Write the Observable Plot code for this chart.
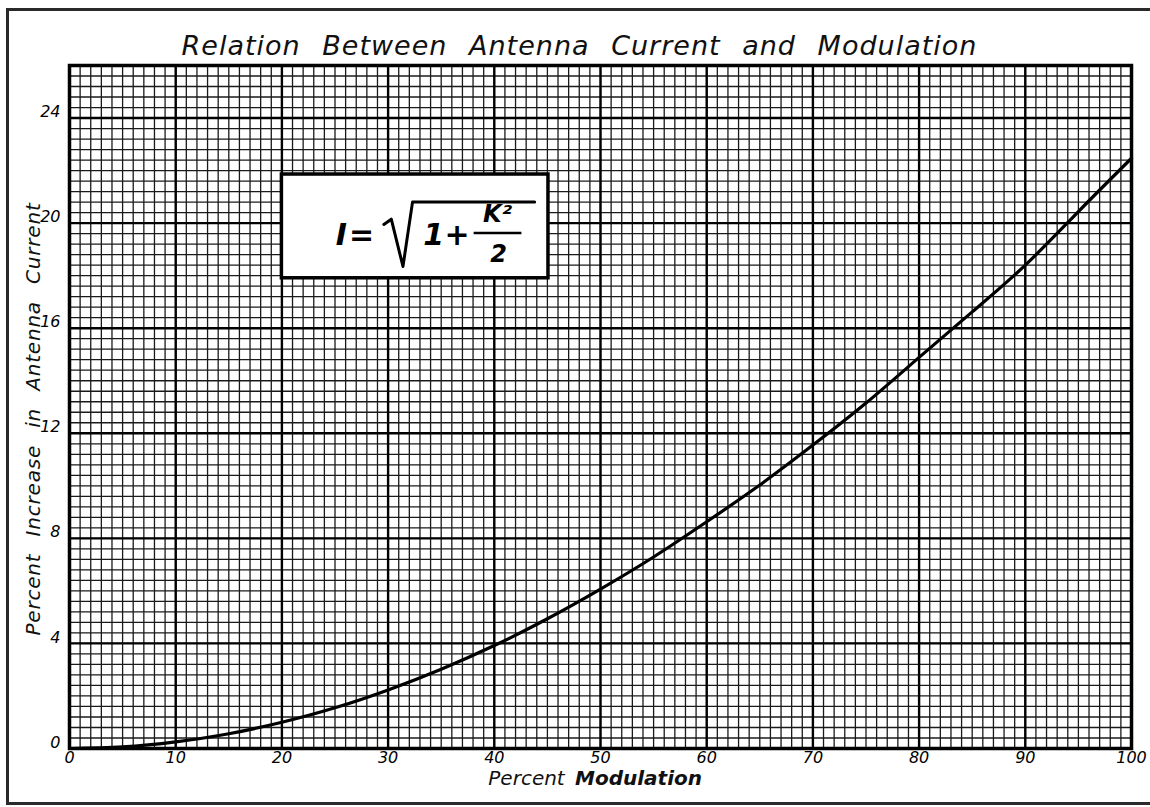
<!DOCTYPE html>
<html><head><meta charset="utf-8">
<script src="https://cdn.jsdelivr.net/npm/d3@7"></script>
<script src="https://cdn.jsdelivr.net/npm/@observablehq/plot@0.6"></script>
<style>
html,body{margin:0;padding:0;background:#fff;}
#wrap{position:relative;width:1150px;height:807px;overflow:hidden;background:#fff;}
#border{position:absolute;left:6px;top:8px;width:1160px;height:797px;border:3px solid #2a2a2a;box-sizing:border-box;pointer-events:none;}
#chart{position:absolute;left:0;top:0;}
</style></head>
<body><div id="wrap"><div id="chart"></div><div id="border"></div></div>
<script>
// Data
const modulation = [0, 5, 10, 15, 20, 25, 30, 35, 40, 45, 50, 55, 60, 65, 70, 75, 80, 85, 90, 95, 100];
const increase   = [0, 0.06, 0.25, 0.56, 1.0, 1.55, 2.23, 3.02, 3.92, 4.94, 6.07, 7.29, 8.63, 10.03, 11.55, 13.15, 14.89, 16.62, 18.4, 20.44, 22.47];

const xTicks = [0, 10, 20, 30, 40, 50, 60, 70, 80, 90, 100];
const yTicks = [0, 4, 8, 12, 16, 20, 24];
const xMinorStep = 1;
const yMinorStep = 0.4;

const titleText = "Relation Between Antenna Current and Modulation";
const xLabelWords = ["Percent", "Modulation"];
const yLabel = "Percent Increase in Antenna Current";

// formula annotation (data coordinates)
const formulaBox = [{x1: 20, x2: 45.1, y1: 17.9, y2: 21.85}];
const formulaBig = [
  {x: 25.6, y: 19.55, t: "I"},
  {x: 27.5, y: 19.55, t: "="},
  {x: 34.3, y: 19.55, t: "1"},
  {x: 36.5, y: 19.55, t: "+"}
];
const formulaSmall = [
  {x: 40.3, y: 20.35, t: "K²"},
  {x: 40.4, y: 18.8, t: "2"}
];
const radical = [
  {x: 29.6, y: 19.95}, {x: 30.3, y: 20.15}, {x: 31.4, y: 18.35}, {x: 32.3, y: 20.8}, {x: 43.8, y: 20.8}
];
const fracBar = [{x1: 38.1, x2: 42.6, y: 19.62}];

const data = modulation.map((m, i) => ({m, v: increase[i]}));
const font = "'DejaVu Sans', sans-serif";

const chart = Plot.plot({
  width: 1150,
  height: 807,
  marginLeft: 69,
  marginRight: 19,
  marginTop: 65,
  marginBottom: 59,
  style: {fontFamily: font, background: "white", overflow: "visible"},
  x: {domain: [0, 100]},
  y: {domain: [0, 26]},
  marks: [
    Plot.gridX(d3.range(0, 100.01, xMinorStep), {stroke: "#1a1a1a", strokeOpacity: 1, strokeWidth: 1.3}),
    Plot.gridY(d3.range(0, 26.01, yMinorStep).map(d => +d.toFixed(2)), {stroke: "#1a1a1a", strokeOpacity: 1, strokeWidth: 1.3}),
    Plot.gridX(xTicks, {stroke: "#000", strokeOpacity: 1, strokeWidth: 2.4}),
    Plot.gridY(yTicks, {stroke: "#000", strokeOpacity: 1, strokeWidth: 2.4}),
    Plot.frame({stroke: "#000", strokeWidth: 3.5}),
    Plot.axisX(xTicks, {tickSize: 0, tickPadding: 3, fontSize: 16, fontStyle: "italic", label: null}),
    Plot.axisY(yTicks, {tickSize: 0, tickPadding: 9, fontSize: 16, fontStyle: "italic", label: null, dy: -6}),
    Plot.line(data, {x: "m", y: "v", curve: "natural", stroke: "#000", strokeWidth: 3.2}),
    // formula box
    Plot.rect(formulaBox, {x1: "x1", x2: "x2", y1: "y1", y2: "y2", fill: "white", stroke: "#000", strokeWidth: 3.5}),
    Plot.text(formulaBig, {x: "x", y: "y", text: "t", fontSize: 30, fontStyle: "italic", fontWeight: "bold", fill: "#000"}),
    Plot.text(formulaSmall, {x: "x", y: "y", text: "t", fontSize: 24, fontStyle: "italic", fontWeight: "bold", fill: "#000"}),
    Plot.line(radical, {x: "x", y: "y", stroke: "#000", strokeWidth: 3, curve: "linear"}),
    Plot.ruleY(fracBar, {x1: "x1", x2: "x2", y: "y", stroke: "#000", strokeWidth: 2.5}),
    // title and labels
    Plot.text([titleText], {frameAnchor: "top", dy: -30, dx: -21, fontSize: 27, fontStyle: "italic", fill: "#111"}),
    Plot.text([xLabelWords[0]], {frameAnchor: "bottom", dy: 36, dx: -74, fontSize: 20, fontStyle: "italic", fill: "#111"}),
    Plot.text([xLabelWords[1]], {frameAnchor: "bottom", dy: 36, dx: 38, fontSize: 20, fontStyle: "italic", fontWeight: "bold", fill: "#111"}),
    Plot.text([yLabel], {frameAnchor: "left", textAnchor: "middle", dx: -36, dy: 12, rotate: -90, fontSize: 20, fontStyle: "italic", fill: "#111"})
  ]
});
document.getElementById("chart").appendChild(chart);
const texts = d3.select(chart).selectAll("g[aria-label='text'] text");
texts.filter(function(){return this.textContent===titleText;})
  .style("letter-spacing", "1px").style("word-spacing", "12px");
texts.filter(function(){return this.textContent===yLabel;})
  .style("letter-spacing", "0.8px").style("word-spacing", "10px");
</script>
</body></html>
